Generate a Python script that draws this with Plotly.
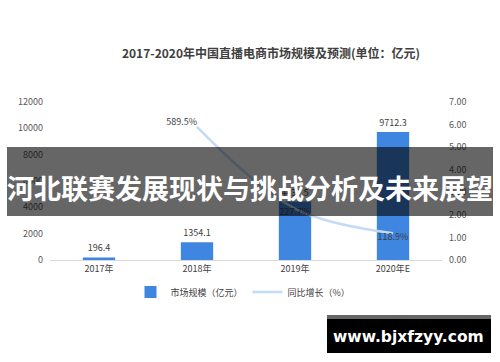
import plotly.graph_objects as go

categories = ["2017年", "2018年", "2019年", "2020年E"]
market_size = [196.4, 1354.1, 4437.5, 9712.3]
growth_categories = ["2018年", "2019年", "2020年E"]
growth_ratio = [5.895, 2.277, 1.189]
growth_labels = ["589.5%", "227.7%", "118.9%"]
left_ticks = [0, 2000, 4000, 6000, 8000, 10000, 12000]
right_ticks = [0, 1, 2, 3, 4, 5, 6, 7]

FONT = "Noto Sans CJK SC"
L, R, T, B = 50, 58, 102, 102
PW, PH = 500 - L - R, 362 - T - B


def px(x):
    return (x - L) / PW


def py(y):
    return (362 - B - y) / PH


fig = go.Figure()
fig.add_trace(go.Bar(
    x=categories, y=market_size, name="市场规模（亿元）",
    marker=dict(color="#3f86e0", line=dict(width=0)), width=0.33,
    text=[f"{v:.1f}" for v in market_size], textposition="outside",
    textfont=dict(size=9, color="#404040", family=FONT), cliponaxis=False,
))
fig.add_trace(go.Scatter(
    x=growth_categories, y=growth_ratio, name="同比增长（%）", yaxis="y2",
    mode="lines+text", line=dict(color="#c3dbf6", width=2.5, shape="spline"),
    text=growth_labels, textposition=["top left", "bottom center", "bottom center"],
    textfont=dict(size=9, color="#404040", family=FONT), cliponaxis=False,
))

fig.update_layout(
    width=500, height=362, margin=dict(l=L, r=R, t=T, b=B, autoexpand=False),
    paper_bgcolor="white", plot_bgcolor="white",
    font=dict(family=FONT, size=9, color="#595959"),
    showlegend=True,
    legend=dict(orientation="h", x=px(243), xanchor="center", y=py(292), yanchor="middle",
                font=dict(size=9, color="#404040"), itemwidth=30, bgcolor="rgba(0,0,0,0)"),
    title=dict(text="<b>2017-2020年中国直播电商市场规模及预测(单位：亿元)</b>",
               xref="container", yref="container",
               x=271 / 500, xanchor="center", y=1 - 54 / 362, yanchor="middle",
               font=dict(size=12, color="#404040", family=FONT)),
    xaxis=dict(showgrid=False, showline=True, linecolor="#d9d9d9", linewidth=1,
               ticks="", tickfont=dict(size=9, color="#404040"), fixedrange=True),
    yaxis=dict(range=[0, 12000], tickvals=left_ticks, tickformat="d", showgrid=False,
               zeroline=False, showline=False, ticks="", ticklabelstandoff=6,
               tickfont=dict(size=9, color="#595959")),
    yaxis2=dict(range=[0, 7], tickvals=right_ticks, tickformat=".2f", overlaying="y",
                side="right", showgrid=False, zeroline=False, showline=False, ticks="",
                ticklabelstandoff=6, tickfont=dict(size=9, color="#595959")),
)

# overlay banner
fig.add_shape(type="rect", xref="paper", yref="paper",
              x0=px(7), x1=px(493), y0=py(216), y1=py(147),
              fillcolor="rgba(0,0,0,0.6)", line=dict(width=0), layer="above")
fig.add_annotation(xref="paper", yref="paper", x=px(250), y=py(187),
                   text="<b>河北联赛发展现状与挑战分析及未来展望</b>", showarrow=False,
                   font=dict(size=27, color="white", family=FONT),
                   xanchor="center", yanchor="middle")

# watermark
fig.add_shape(type="rect", xref="paper", yref="paper",
              x0=px(327), x1=px(491), y0=py(353), y1=py(315),
              fillcolor="black", line=dict(width=0), layer="above")
fig.add_shape(type="rect", xref="paper", yref="paper",
              x0=px(327), x1=px(491), y0=py(319), y1=py(315),
              fillcolor="#666666", line=dict(width=0), layer="above")
fig.add_annotation(xref="paper", yref="paper", x=px(408), y=py(337),
                   text="<b>www.bjxfzyy.com</b>", showarrow=False,
                   font=dict(size=15.5, color="white", family="DejaVu Sans"),
                   xanchor="center", yanchor="middle")

fig.write_html("out.html", config={"displayModeBar": False},
               post_script="document.body.style.margin='0';")
